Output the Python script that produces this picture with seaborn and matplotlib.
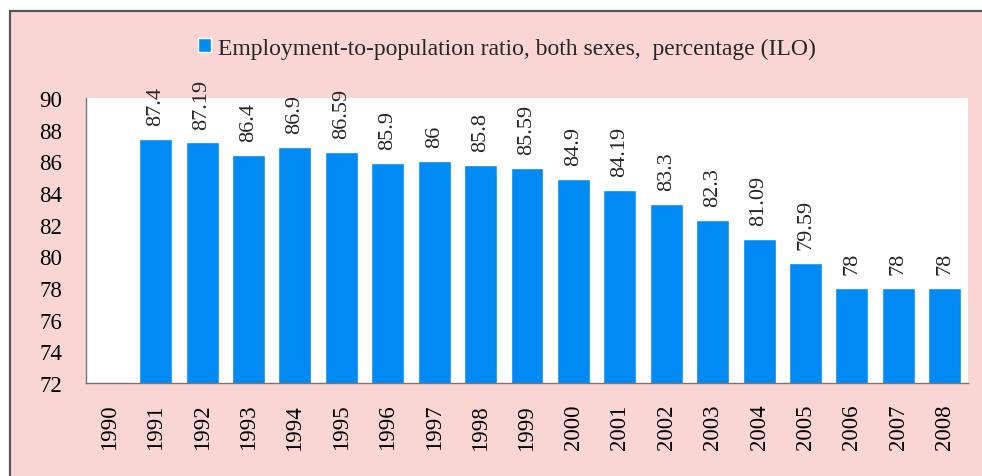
import numpy as np
import pandas as pd
import matplotlib
matplotlib.use("Agg")
import matplotlib.pyplot as plt
from matplotlib.patches import Rectangle
import seaborn as sns

years = [str(y) for y in range(1990, 2009)]
values = [np.nan, 87.4, 87.19, 86.4, 86.9, 86.59, 85.9, 86, 85.8, 85.59,
          84.9, 84.19, 83.3, 82.3, 81.09, 79.59, 78, 78, 78]
series_name = "Employment-to-population ratio, both sexes,  percentage (ILO)"

df = pd.DataFrame({"year": years, "value": values})

sns.set_style("white")
plt.rcParams["font.family"] = ["Liberation Serif", "DejaVu Serif"]

pink = "#F9D5D4"
blue = "#008BF4"

fig = plt.figure(figsize=(9.82, 4.77), dpi=100, facecolor="white")
# pink chart area with dark border
fig.patches.append(Rectangle((9.5 / 982, -0.02), 1.05, (477 - 11.5) / 477 + 0.02,
                             transform=fig.transFigure, facecolor=pink,
                             edgecolor="#555555", linewidth=1.6, zorder=-1))

ax = fig.add_axes([86 / 982, (477 - 384) / 477, (968 - 86) / 982, (384 - 99) / 477])
ax.set_facecolor("white")

sns.barplot(data=df, x="year", y="value", order=years, color=blue, saturation=1,
            width=0.71, label=series_name, ax=ax)

ax.set_ylim(72, 90)
ax.set_yticks(range(72, 91, 2))
ax.set_xlim(-0.5, len(years) - 0.5)
ax.set_xlabel("")
ax.set_ylabel("")
ax.tick_params(axis="both", length=0, labelsize=16.5, colors="black")
ax.tick_params(axis="x", rotation=90, pad=15)
ax.tick_params(axis="y", pad=17)
for s in ["top", "right"]:
    ax.spines[s].set_visible(False)
for s in ["left", "bottom"]:
    ax.spines[s].set_color("#777777")
    ax.spines[s].set_linewidth(1.0)

for i, v in enumerate(values):
    if np.isnan(v):
        continue
    ax.annotate(f"{v:g}", (i, v), xytext=(0, 10), textcoords="offset points",
                ha="center", va="bottom", rotation=90, fontsize=16,
                annotation_clip=False)

ax.legend(loc="center", bbox_to_anchor=(0.5 - 20 / 882, 1 + (99 - 49) / 285),
          frameon=False, fontsize=17, handlelength=0.55, handleheight=0.55,
          handletextpad=0.3)

fig.savefig("out.png", dpi=100, facecolor=fig.get_facecolor())
